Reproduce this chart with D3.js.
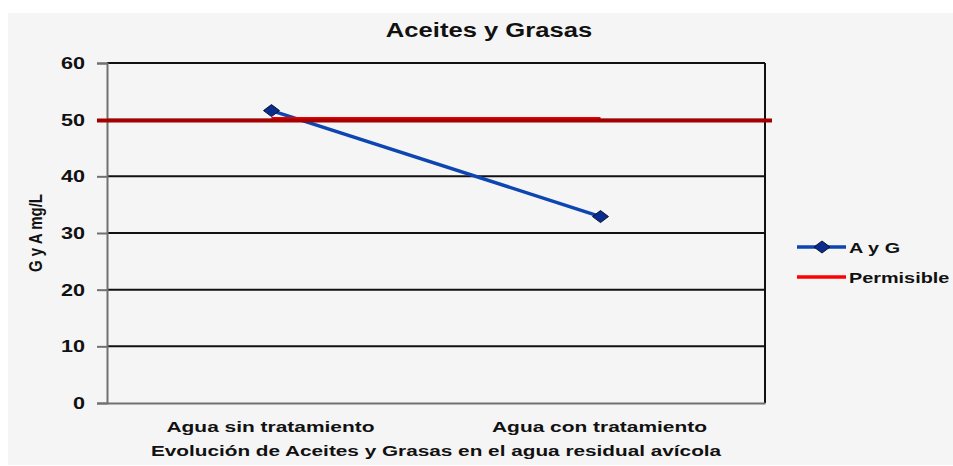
<!DOCTYPE html>
<html>
<head>
<meta charset="utf-8">
<script src="https://cdn.jsdelivr.net/npm/d3@7"></script>
<style>
  body { margin: 0; background: #fff; }
  text { font-family: "Liberation Sans", Arial, sans-serif; fill: #111; }
</style>
</head>
<body>
<svg id="chart" width="953" height="466"></svg>
<script>
var categories = ['Agua sin tratamiento', 'Agua con tratamiento'];
var ayg = [51.6, 32.9];
var permisible = [50, 50];
var yTicks = [0, 10, 20, 30, 40, 50, 60];
var title = 'Aceites y Grasas';
var xTitle = 'Evolución de Aceites y Grasas en el agua residual avícola';
var yTitle = 'G y A mg/L';
var seriesNames = ['A y G', 'Permisible'];

var svg = d3.select('#chart');
var plotLeft = 107, plotRight = 765, plotTop = 63, plotBottom = 403;

var x = d3.scaleBand().domain(categories).range([plotLeft, plotRight]);
var y = d3.scaleLinear().domain([0, 60]).range([plotBottom, plotTop]);

// background panel
svg.append('rect')
  .attr('x', 8).attr('y', 13)
  .attr('width', 945).attr('height', 452)
  .attr('fill', '#f5f5f5');

// gridlines
svg.append('g').selectAll('line')
  .data(yTicks.filter(function(d) { return d > 0; }))
  .enter().append('line')
  .attr('x1', plotLeft).attr('x2', plotRight)
  .attr('y1', function(d) { return y(d); })
  .attr('y2', function(d) { return y(d); })
  .attr('stroke', '#111').attr('stroke-width', 2);

// right border
svg.append('line')
  .attr('x1', plotRight).attr('x2', plotRight)
  .attr('y1', plotTop).attr('y2', plotBottom)
  .attr('stroke', '#111').attr('stroke-width', 2);

// y axis
var yAxis = svg.append('g')
  .attr('transform', 'translate(' + plotLeft + ',0)')
  .call(d3.axisLeft(y).tickValues(yTicks).tickSize(10).tickPadding(0).tickFormat(function(d) { return ''; }));
yAxis.select('.domain').attr('stroke', '#707070').attr('stroke-width', 2);
yAxis.selectAll('.tick line').attr('stroke', '#707070').attr('stroke-width', 2);

// y tick labels (stretched like the source)
svg.append('g').selectAll('text')
  .data(yTicks)
  .enter().append('text')
  .attr('transform', function(d) { return 'translate(85,' + (y(d) + 6) + ') scale(1.35,1)'; })
  .attr('text-anchor', 'end')
  .attr('font-size', 16)
  .attr('font-weight', 'bold')
  .text(function(d) { return d; });

// x axis
var xAxis = svg.append('g')
  .attr('transform', 'translate(0,' + plotBottom + ')')
  .call(d3.axisBottom(x).tickSize(0).tickFormat(''));
xAxis.select('.domain').attr('stroke', '#707070').attr('stroke-width', 2);

svg.append('g').selectAll('text')
  .data(categories)
  .enter().append('text')
  .attr('transform', function(d) { return 'translate(' + (x(d) + x.bandwidth() / 2 - 1) + ',432) scale(1.35,1)'; })
  .attr('text-anchor', 'middle')
  .attr('font-size', 15.5)
  .attr('font-weight', 'bold')
  .text(function(d) { return d; });

var line = d3.line()
  .x(function(d, i) { return x(categories[i]) + x.bandwidth() / 2; })
  .y(function(d) { return y(d); });

// A y G series
svg.append('path')
  .datum(ayg)
  .attr('d', line)
  .attr('fill', 'none')
  .attr('stroke', '#0d46b0')
  .attr('stroke-width', 3.5);

// permisible series line
svg.append('path')
  .datum(permisible)
  .attr('d', line)
  .attr('transform', 'translate(0,-1.5)')
  .attr('fill', 'none')
  .attr('stroke', '#ee0000')
  .attr('stroke-width', 2.5);

function diamond(g, cx, cy) {
  g.append('path')
    .attr('d', 'M' + (cx - 8) + ',' + cy + 'L' + cx + ',' + (cy - 6) + 'L' + (cx + 8) + ',' + cy + 'L' + cx + ',' + (cy + 6) + 'Z')
    .attr('fill', '#0a2c8c')
    .attr('stroke', '#0a1030')
    .attr('stroke-width', 1);
}

// limit line drawn across the plot
svg.append('line')
  .attr('x1', 97).attr('x2', 772)
  .attr('y1', y(permisible[0]) + 0.8).attr('y2', y(permisible[0]) + 0.8)
  .attr('stroke', '#a50000')
  .attr('stroke-width', 4);

var markers = svg.append('g');
ayg.forEach(function(v, i) {
  diamond(markers, x(categories[i]) + x.bandwidth() / 2, y(v));
});

// title
svg.append('text')
  .attr('transform', 'translate(489,37) scale(1.28,1)')
  .attr('text-anchor', 'middle')
  .attr('font-size', 20)
  .attr('font-weight', 'bold')
  .text(title);

// axis titles
svg.append('text')
  .attr('transform', 'translate(436,456) scale(1.34,1)')
  .attr('text-anchor', 'middle')
  .attr('font-size', 15.5)
  .attr('font-weight', 'bold')
  .text(xTitle);

svg.append('text')
  .attr('transform', 'translate(42,233) scale(1.25,1) rotate(-90)')
  .attr('text-anchor', 'middle')
  .attr('font-size', 15)
  .attr('font-weight', 'bold')
  .text(yTitle);

// legend
var legend = svg.append('g');
legend.append('line')
  .attr('x1', 797).attr('x2', 846).attr('y1', 247).attr('y2', 247)
  .attr('stroke', '#0d46b0').attr('stroke-width', 3.5);
diamond(legend, 822, 247);
legend.append('line')
  .attr('x1', 797).attr('x2', 846).attr('y1', 277).attr('y2', 277)
  .attr('stroke', '#ff0000').attr('stroke-width', 3.5);
legend.selectAll('text.lg')
  .data(seriesNames)
  .enter().append('text')
  .attr('class', 'lg')
  .attr('transform', function(d, i) { return 'translate(849,' + (253 + i * 30) + ') scale(1.28,1)'; })
  .attr('font-size', 15.5)
  .attr('font-weight', 'bold')
  .text(function(d) { return d; });
</script>
</body>
</html>
